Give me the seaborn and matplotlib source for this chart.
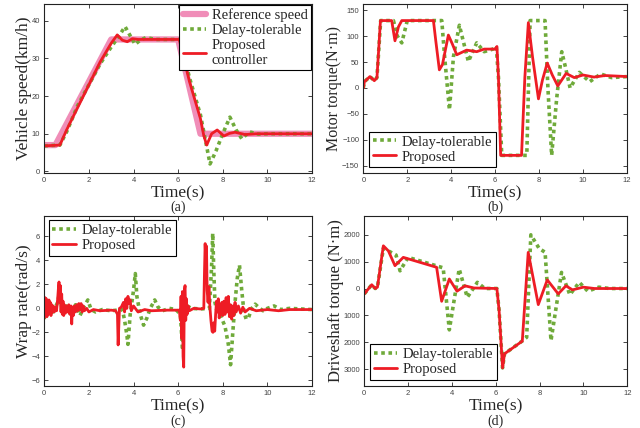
import numpy as np
import pandas as pd
import matplotlib
matplotlib.use("Agg")
import matplotlib.pyplot as plt
import seaborn as sns

# ---------------- data ----------------
# (a) vehicle speed
ref_t = [0, 0.5, 3.0, 6.0, 7.0, 12]
ref_v = [7, 7, 35, 35, 10, 10]
a_prop_t = [0, 0.7, 1.0, 1.5, 2.0, 2.5, 3.0, 3.27, 3.5, 3.72, 3.95, 4.2, 5.0, 6.05, 6.5, 7.0, 7.15, 7.28, 7.5, 7.75, 8.05, 8.3, 8.55, 9.0, 9.5, 10, 12]
a_prop_v = [6.8, 7.0, 11, 17, 23, 29, 34, 36.2, 34.8, 34.4, 35.2, 35, 35, 35, 24, 14, 9.5, 7.0, 10, 11.0, 9.4, 10.1, 10.4, 9.8, 10, 10, 10]
a_delay_t = [0, 0.7, 1.0, 1.5, 2.0, 2.5, 3.0, 3.3, 3.62, 3.85, 4.07, 4.3, 4.56, 5.0, 6.1, 6.5, 7.0, 7.2, 7.43, 7.7, 8.0, 8.32, 8.6, 8.85, 9.2, 9.6, 10, 12]
a_delay_v = [6.8, 7.0, 10.5, 17.5, 23, 28.5, 33, 35.5, 38.4, 36, 33.7, 34.8, 35.5, 35, 35, 25, 15, 9, 2.0, 5.5, 10, 14.4, 11, 8.7, 10.5, 9.9, 10, 10]

# (b) motor torque
b_prop_t = [0, 0.05, 0.3, 0.5, 0.62, 0.78, 1.29, 1.44, 1.6, 1.75, 3.19, 3.3, 3.46, 3.6, 3.87, 4.05, 4.25, 4.7, 5.16, 5.5, 6.0, 6.08, 6.15, 6.25, 7.2, 7.35, 7.51, 7.7, 7.97, 8.15, 8.37, 8.6, 8.85, 9.23, 9.6, 10.0, 10.5, 11.0, 12]
b_prop_v = [0, 12, 22, 14, 20, 130, 130, 91, 118, 130, 130, 90, 35, 45, 102, 85, 64, 73, 70, 75, 75, 80, 20, -130, -130, 20, 126, 60, -21, 15, 48, 25, 4, 28, 20, 25, 21, 24, 22]
b_delay_t = [0, 0.05, 0.3, 0.5, 0.62, 0.79, 1.37, 1.55, 1.75, 2.0, 3.57, 3.7, 3.92, 4.1, 4.37, 4.55, 4.78, 5.16, 5.5, 5.9, 6.05, 6.15, 6.3, 7.44, 7.59, 8.27, 8.4, 8.57, 8.8, 9.03, 9.2, 9.41, 9.83, 10.3, 10.8, 11.3, 12]
b_delay_v = [0, 12, 22, 14, 20, 130, 130, 100, 87, 130, 130, 60, -42, 60, 121, 90, 51, 87, 70, 75, 80, 20, -130, -130, 130, 130, 0, -130, -20, 70, 40, 0, 30, 12, 27, 20, 22]

# (c) wrap rate
c_prop_t = [0.00, 0.03, 0.06, 0.09, 0.12, 0.15, 0.18, 0.21, 0.24, 0.27, 0.30, 0.33, 0.36, 0.40, 0.45, 0.50, 0.55, 0.60, 0.63, 0.66, 0.69, 0.72, 0.75, 0.78, 0.81, 0.84, 0.87, 0.90, 0.95, 1.00, 1.05, 1.10, 1.15, 1.20, 1.23, 1.26, 1.30, 1.35, 1.40, 1.45, 1.50, 1.55, 1.60, 1.65, 1.70, 1.75, 1.80, 1.90, 2.0, 2.2, 2.5, 3.0, 3.2, 3.28, 3.31, 3.34, 3.37, 3.45, 3.55, 3.60, 3.65, 3.70, 3.75, 3.80, 3.85, 3.90, 4.0, 4.2, 4.5, 4.8, 5.5, 6.05, 6.10, 6.13, 6.16, 6.19, 6.22, 6.25, 6.28, 6.31, 6.34, 6.37, 6.40, 6.45, 6.5, 6.7, 7.0, 7.15, 7.18, 7.21, 7.24, 7.27, 7.30, 7.34, 7.38, 7.42, 7.47, 7.52, 7.56, 7.60, 7.64, 7.68, 7.72, 7.76, 7.80, 7.84, 7.88, 7.92, 7.96, 8.0, 8.05, 8.1, 8.15, 8.2, 8.25, 8.3, 8.35, 8.4, 8.45, 8.5, 8.55, 8.6, 8.7, 8.8, 8.9, 9.0, 9.2, 9.5, 10.0, 10.5, 11.0, 12.0]
c_prop_v = [-0.8, 0.9, -0.6, 0.8, -0.7, 0.6, -0.5, 0.7, -0.4, 0.5, -0.6, 0.3, -0.3, 0.2, -0.3, 0.1, -0.2, 0.8, 1.6, 2.2, 0.5, 1.9, -0.3, 1.2, -0.5, 0.6, -0.6, 0.3, -0.4, 0.2, -0.3, 0.3, -0.5, 0.2, -1.3, 0.1, -0.6, 0.2, -0.3, 0.3, -0.2, 0.4, -0.1, 0.4, -0.3, 0.2, -0.2, 0.0, -0.3, -0.1, -0.2, -0.15, -0.2, -0.5, -3.05, -1.5, 0.0, 0.1, 0.5, -0.3, 0.8, 0.0, 1.0, 0.4, 0.7, -0.2, 0.2, -0.3, -0.1, -0.2, -0.15, -0.15, -1.0, 1.0, -2.5, 1.4, -4.0, -4.9, 1.5, 1.9, -1.0, 0.8, -0.5, 0.2, -0.2, 0.0, -0.05, 0.0, 3.0, 5.4, 4.0, 5.2, 1.5, 0.5, 1.8, 0.2, -1.0, -1.9, -2.0, -1.2, -1.9, -0.5, 0.6, -0.3, 0.8, -0.8, 0.3, -0.5, 0.5, -0.6, 0.6, -0.5, 0.9, -0.3, 1.0, -0.7, 0.3, -0.9, 0.2, -0.6, 0.5, -0.3, 0.2, -0.4, 0.1, -0.3, 0.0, -0.2, -0.1, -0.2, -0.1, -0.1]
c_delay_t = [0.0, 0.05, 0.1, 0.15, 0.2, 0.3, 0.4, 0.6, 0.7, 0.8, 1.0, 1.2, 1.4, 1.6, 1.8, 1.95, 2.1, 2.3, 2.6, 3.0, 3.5, 3.6, 3.7, 3.75, 3.85, 4.0, 4.08, 4.15, 4.3, 4.45, 4.6, 4.75, 4.95, 5.1, 5.3, 5.6, 5.9, 6.1, 6.2, 6.25, 6.3, 6.4, 6.6, 7.0, 7.4, 7.5, 7.55, 7.6, 7.65, 7.75, 7.9, 8.1, 8.25, 8.35, 8.45, 8.55, 8.65, 8.75, 8.85, 8.95, 9.05, 9.15, 9.3, 9.45, 9.6, 9.8, 10.0, 10.3, 10.6, 11.0, 12.0]
c_delay_v = [-0.9, 0.7, -0.5, 0.5, -0.4, 0.3, -0.3, 0.5, 1.5, -0.3, 0.2, -0.6, 0.3, -0.6, 0.2, 0.7, -0.1, -0.3, -0.1, -0.2, -0.1, -1.0, -2.2, -3.0, -0.5, 1.5, 2.9, 1.0, -0.5, -1.4, -0.8, 0.0, 0.7, 0.1, -0.2, 0.0, -0.1, -0.5, -3.5, 1.0, -0.5, 0.2, 0.0, -0.05, 0.0, 3.5, 6.25, 3.0, 0.5, -0.3, -0.6, -1.5, -3.0, -4.7, -2.0, 0.5, 2.5, 3.6, 1.5, -0.3, -0.9, -0.8, 0.0, 0.35, 0.1, -0.2, 0.0, 0.2, -0.1, 0.0, -0.1]

# (d) driveshaft torque
d_prop_t = [0, 0.1, 0.34, 0.5, 0.6, 0.87, 1.1, 1.4, 1.78, 3.3, 3.53, 3.88, 4.23, 4.6, 5.0, 6.05, 6.15, 6.31, 6.4, 7.21, 7.48, 7.94, 8.35, 8.85, 9.2, 9.5, 10.0, 10.5, 12]
d_prop_v = [-200, -100, 140, 0, 50, 1590, 1400, 850, 1160, 790, -476, 355, -100, 100, 20, 0, -800, -2955, -2430, -1960, 1345, -600, 320, -200, 100, -50, 50, 0, 0]
d_delay_t = [0, 0.1, 0.34, 0.5, 0.6, 0.87, 1.1, 1.45, 1.63, 2.0, 3.6, 3.88, 4.33, 4.7, 5.16, 5.5, 6.05, 6.15, 6.31, 6.4, 7.2, 7.41, 7.6, 7.98, 8.25, 8.52, 9.0, 9.38, 9.81, 10.2, 10.7, 11.2, 12]
d_delay_v = [-200, -100, 140, 0, 50, 1500, 1400, 1245, 660, 1160, 770, -1540, 725, -330, 230, 0, 0, -800, -2955, -2430, -1960, -1815, 2000, 1490, 1350, -1940, 600, -230, 230, -100, 50, 0, 0]

d_tick_vals = [-3000, -2000, -1000, 0, 1000, 2000]
d_tick_labels = ["3000", "2000", "1000", "0", "1000", "2000"]

# ---------------- style ----------------
sns.set_style("ticks")
plt.rcParams["font.family"] = ["Liberation Serif", "DejaVu Serif"]

RED = "#EE1C25"
GREEN = "#6FAA3A"
PINK = "#F08DB8"
DOT = (0, (1, 1))

fig = plt.figure(figsize=(6.4, 4.28), dpi=100)
ax_a = fig.add_axes([0.0692, 0.5958, 0.4183, 0.3949])
ax_b = fig.add_axes([0.5677, 0.5958, 0.4120, 0.3949])
ax_c = fig.add_axes([0.0692, 0.0988, 0.4183, 0.3965])
ax_d = fig.add_axes([0.5692, 0.0988, 0.4109, 0.3965])


def line(ax, t, v, color, lw, ls="-", label=None):
    df = pd.DataFrame({"t": t, "v": v})
    sns.lineplot(data=df, x="t", y="v", ax=ax, color=color, lw=lw,
                 linestyle=ls, label=label, estimator=None, sort=False,
                 solid_joinstyle="round", dash_capstyle="butt")


# (a)
line(ax_a, ref_t, ref_v, PINK, 4.5, label="Reference speed")
line(ax_a, a_delay_t, a_delay_v, GREEN, 2.6, DOT, label="Delay-tolerable")
line(ax_a, a_prop_t, a_prop_v, RED, 2.0, label="Proposed\ncontroller")
# (b)
line(ax_b, b_delay_t, b_delay_v, GREEN, 2.6, DOT, label="Delay-tolerable")
line(ax_b, b_prop_t, b_prop_v, RED, 2.0, label="Proposed")
# (c)
line(ax_c, c_delay_t, c_delay_v, GREEN, 2.6, DOT, label="Delay-tolerable")
line(ax_c, c_prop_t, c_prop_v, RED, 2.0, label="Proposed")
# (d)
line(ax_d, d_delay_t, d_delay_v, GREEN, 2.6, DOT, label="Delay-tolerable")
line(ax_d, d_prop_t, d_prop_v, RED, 2.0, label="Proposed")

ax_a.set_ylim(-0.4, 44.4)
ax_a.set_yticks([0, 10, 20, 30, 40])
ax_b.set_ylim(-164, 162)
ax_b.set_yticks([-150, -100, -50, 0, 50, 100, 150])
ax_c.set_ylim(-6.45, 7.7)
ax_c.set_yticks([-6, -4, -2, 0, 2, 4, 6])
ax_d.set_ylim(-3620, 2700)
ax_d.set_yticks(d_tick_vals)
ax_d.set_yticklabels(d_tick_labels)

ylabels = ["Vehicle speed(km/h)", "Motor torque(N\u00b7m)", "Wrap rate(rad/s)",
           "Driveshaft torque (N\u00b7m)"]
ylab_x = [-0.076, -0.112, -0.076, -0.108]
ylab_fs = [12.5, 11.5, 12.5, 12.0]
tags = ["(a)", "(b)", "(c)", "(d)"]
tag_y = [1 - 207 / 428, 1 - 207 / 428, 1 - 421 / 428, 1 - 421 / 428]
for ax, yl, yx, yfs, tg, ty in zip([ax_a, ax_b, ax_c, ax_d], ylabels, ylab_x,
                                   ylab_fs, tags, tag_y):
    ax.set_xlim(0, 12)
    ax.set_xticks([0, 2, 4, 6, 8, 10, 12])
    ax.tick_params(direction="in", top=True, right=True, length=3, width=0.6,
                   labelsize=5.5, labelcolor="#444444", pad=3)
    for lab in ax.get_xticklabels() + ax.get_yticklabels():
        lab.set_family(["Liberation Sans", "DejaVu Sans"])
    for s in ax.spines.values():
        s.set_linewidth(0.8)
        s.set_color("#222222")
    ax.set_xlabel("Time(s)", fontsize=12.5)
    ax.xaxis.set_label_coords(0.5, -0.12)
    ax.xaxis.label.set_verticalalignment("center")
    ax.set_ylabel(yl, fontsize=yfs)
    ax.yaxis.set_label_coords(yx, 0.5)
    ax.yaxis.label.set_verticalalignment("center")
    pos = ax.get_position()
    fig.text(pos.x0 + pos.width / 2, ty, tg, ha="center", va="center",
             fontsize=10)

leg_kw = dict(fontsize=10.5, frameon=True, fancybox=False, edgecolor="black",
              handlelength=1.6, handletextpad=0.4, labelspacing=0.12,
              borderpad=0.25, framealpha=1)
for ax, loc, bap in [(ax_a, "upper right", 0.05), (ax_b, "lower left", 0.4),
                     (ax_c, "upper left", 0.3), (ax_d, "lower left", 0.4)]:
    lg = ax.legend(loc=loc, borderaxespad=bap, **leg_kw)
    lg.get_frame().set_linewidth(0.8)

fig.savefig("out.png", dpi=100)
